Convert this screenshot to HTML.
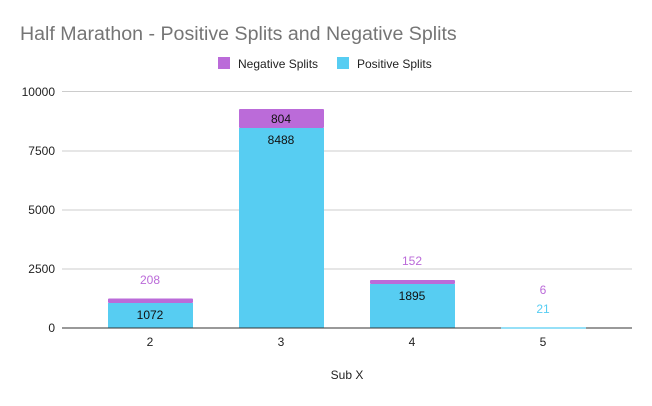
<!DOCTYPE html>
<html><head><style>body{margin:0;background:#fff}</style></head><body>
<svg width="652" height="401" xmlns="http://www.w3.org/2000/svg" font-family="Liberation Sans, sans-serif">
<rect width="652" height="401" fill="#fff"/>
<text x="20" y="40" font-size="19.6" fill="#757575">Half Marathon - Positive Splits and Negative Splits</text>
<rect x="218" y="57" width="12" height="12" fill="#bb6bd9"/>
<text x="238" y="68" font-size="12" fill="#222">Negative Splits</text>
<rect x="337" y="57" width="12" height="12" fill="#57cdf2"/>
<text x="357" y="68" font-size="12" fill="#222">Positive Splits</text>
<g stroke="#ccc" stroke-width="1">
<line x1="62" x2="632" y1="91.5" y2="91.5"/><line x1="62" x2="632" y1="151" y2="151"/>
<line x1="62" x2="632" y1="210" y2="210"/><line x1="62" x2="632" y1="269" y2="269"/>
</g>
<g font-size="12" fill="#222" text-anchor="end">
<text x="55" y="96">10000</text><text x="55" y="155">7500</text><text x="55" y="214">5000</text><text x="55" y="273">2500</text><text x="55" y="332">0</text>
</g>
<rect x="108" y="303" width="85" height="25" fill="#57cdf2"/>
<rect x="108" y="298.5" width="85" height="4.5" fill="#bb6bd9" rx="1"/>
<rect x="239" y="128" width="85" height="200" fill="#57cdf2"/>
<rect x="239" y="109" width="85" height="19" fill="#bb6bd9" rx="1"/>
<rect x="370" y="284" width="85" height="44" fill="#57cdf2"/>
<rect x="370" y="280" width="85" height="4" fill="#bb6bd9" rx="1"/>
<line x1="62" x2="632" y1="328" y2="328" stroke="#333" stroke-width="1"/>
<line x1="501" x2="586" y1="328" y2="328" stroke="#57cdf2" stroke-width="1.2"/>
<g font-size="12" text-anchor="middle">
<text x="150" y="284" fill="#bb6bd9">208</text>
<text x="150" y="319" fill="#111">1072</text>
<text x="281" y="123" fill="#111">804</text>
<text x="281" y="144" fill="#111">8488</text>
<text x="412" y="265" fill="#bb6bd9">152</text>
<text x="412" y="300" fill="#111">1895</text>
<text x="543" y="294" fill="#bb6bd9">6</text>
<text x="543" y="313" fill="#57cdf2">21</text>
<text x="150" y="346" fill="#222">2</text>
<text x="281" y="346" fill="#222">3</text>
<text x="412" y="346" fill="#222">4</text>
<text x="543" y="346" fill="#222">5</text>
<text x="347" y="379" fill="#222">Sub X</text>
</g>
</svg>
</body></html>
